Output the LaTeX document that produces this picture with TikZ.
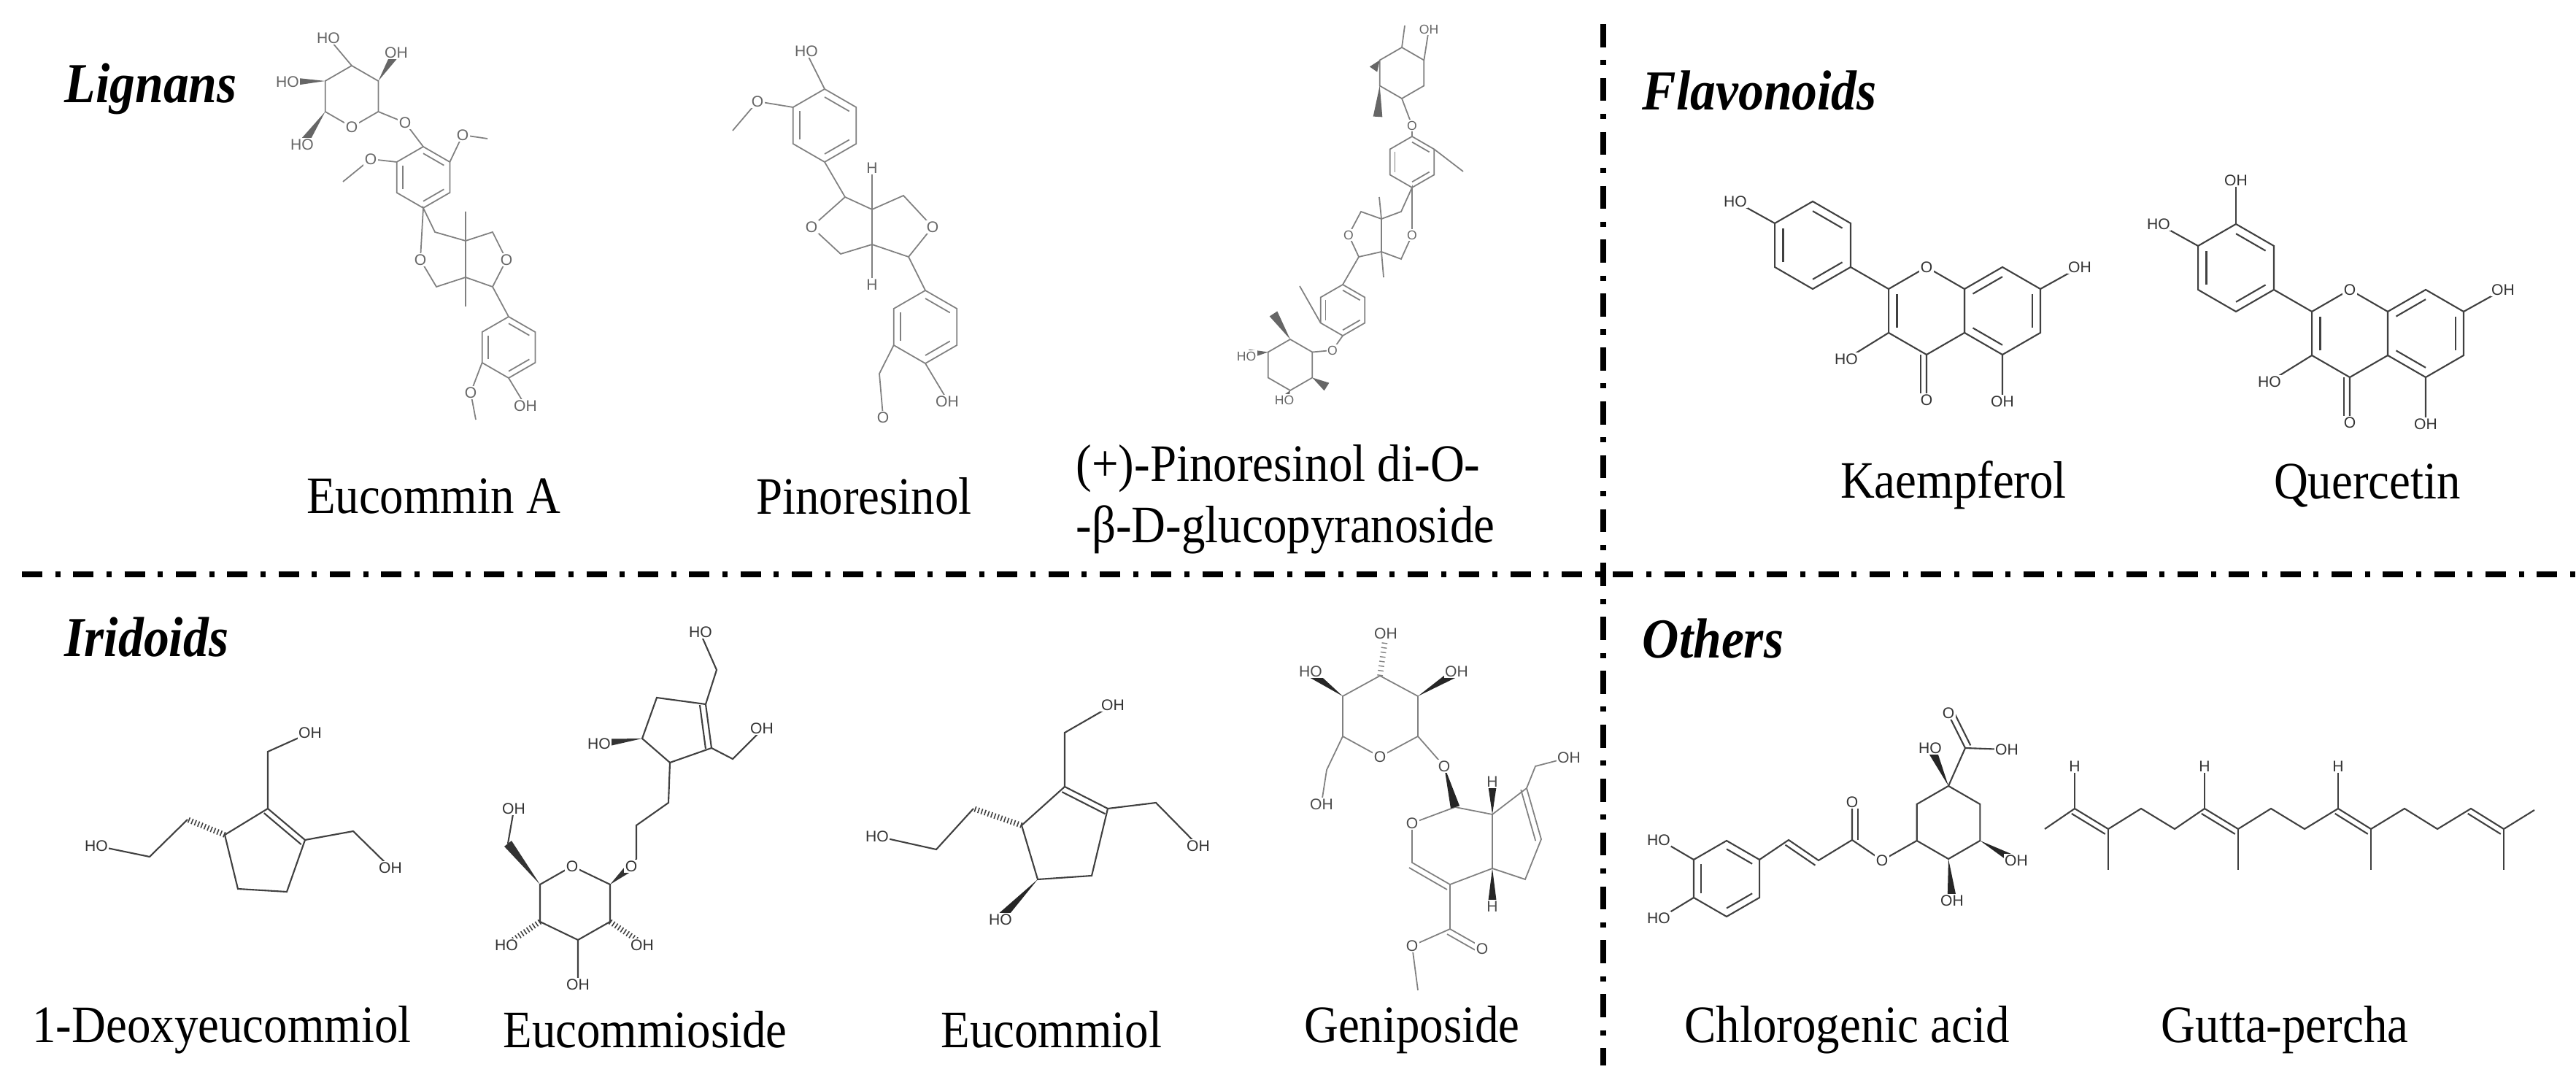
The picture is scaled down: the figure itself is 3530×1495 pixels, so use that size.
\documentclass[tikz,border=0pt]{standalone}
\usepackage{fontspec}
\setmainfont[FakeStretch=0.9]{Liberation Serif}
\newfontfamily\lblf{Liberation Sans}
\usetikzlibrary{calc}
\tikzset{
 bd/.style={line width=0.6pt,draw=black!75},
 lg/.style={line width=0.5pt,draw=black!50},
 hs/.style={line width=2.2pt,draw=black!75,dash pattern=on .45pt off .9pt},
 lbl/.style={font=\lblf\fontsize{6}{6}\selectfont,inner sep=0.4pt,fill=white,text=black!80},
 cname/.style={font=\fontsize{20.5}{24}\selectfont,inner sep=0pt},
 hd/.style={font=\fontsize{22}{24}\selectfont\bfseries\itshape,inner sep=0pt,anchor=west},
 sepl/.style={line width=2.2pt},
}
\newcommand\hexr[6]{% name, cx, cy, start, radius, style
 \coordinate (#1c) at (#2,#3);
 \foreach \k in {1,...,6}{\coordinate (#1\k) at ($(#2,#3)+({#4+60*(\k-1)}:#5)$);}
 \draw[#6] (#11)--(#12)--(#13)--(#14)--(#15)--(#16)--cycle;}
\newcommand\inb[4]{\draw[#4] ($(#1c)!0.78!(#1#2)$) -- ($(#1c)!0.78!(#1#3)$);}
\newcommand\dbl[3]{\draw[#3] ($(#1)!2.3pt!90:(#2)$) -- ($(#2)!2.3pt!-90:(#1)$);}
\newcommand\wdg[3]{\fill[#3] (#1) -- ($(#2)!1.8pt!90:(#1)$) -- ($(#2)!1.8pt!-90:(#1)$) -- cycle;}
\newcommand\flav[4]{% prefix dx dy extraOH
 \hexr{#1B}{2484+#2}{336+#3}{-90}{60}{bd}
 \hexr{#1C}{2640+#2}{426+#3}{-90}{60}{bd}
 \hexr{#1A}{2744+#2}{426+#3}{-90}{60}{bd}
 \inb{#1B}{1}{2}{bd}\inb{#1B}{3}{4}{bd}\inb{#1B}{5}{6}{bd}
 \inb{#1A}{6}{1}{bd}\inb{#1A}{2}{3}{bd}\inb{#1A}{4}{5}{bd}
 \inb{#1C}{5}{6}{bd}
 \coordinate (#1o4) at (2640+#2,548+#3);
 \coordinate (#1o3) at (2530+#2,492+#3);
 \coordinate (#1o7) at (2850+#2,366+#3);
 \coordinate (#1o5) at (2744+#2,550+#3);
 \coordinate (#1o4p) at (2378+#2,276+#3);
 \draw[bd] (#1B3)--(#1C6) (#1C4)--(#1o4) (#1C5)--(#1o3) (#1A2)--(#1o7) (#1A4)--(#1o5) (#1B6)--(#1o4p);
 \dbl{#1o4}{#1C4}{bd}
 \node[lbl] (#1lo4) at (#1o4) {O};
 \node[lbl] (#1lo3) at (#1o3) {HO};
 \node[lbl] (#1lo7) at (#1o7) {OH};
 \node[lbl] (#1lo5) at (#1o5) {OH};
 \node[lbl] (#1lo4p) at (#1o4p) {HO};
 \node[lbl] (#1lo1) at (#1C1) {O};
 #4}
\begin{document}
\begin{tikzpicture}[x=0.01cm,y=-0.01cm]
\useasboundingbox (0,0) rectangle (3530,1495);
% separators
\draw[sepl,dash pattern=on 8pt off 5pt on 2pt off 5pt] (30,787) -- (3530,787);
\draw[sepl,dash pattern=on 9pt off 5pt on 2pt off 5pt] (2197,33) -- (2197,1460);
% headings
\node[hd] (hL) at (88,122) {Lignans};
\node[hd] (hF) at (2250,124) {Flavonoids};
\node[hd] (hI) at (88,873) {Iridoids};
\node[hd] (hO) at (2250,875) {Others};
% names
\node[cname] (n1) at (594,680) {Eucommin A};
\node[cname] (n2) at (1184,680) {Pinoresinol};
\node[cname,anchor=west,align=left] (n3) at (1474,684) {(+)-Pinoresinol di-O-\\-β-D-glucopyranoside};
\node[cname] (n4) at (2677,665) {Kaempferol};
\node[cname] (n5) at (3244,665) {Quercetin};
\node[cname] (n6) at (304,1411) {1-Deoxyeucommiol};
\node[cname] (n7) at (884,1411) {Eucommioside};
\node[cname] (n8) at (1441,1411) {Eucommiol};
\node[cname] (n9) at (1935,1411) {Geniposide};
\node[cname] (n10) at (2531,1411) {Chlorogenic acid};
\node[cname] (n11) at (3131,1411) {Gutta-percha};
% ---- Flavonoids
\flav{K}{0}{0}{}
\flav{Q}{580}{31}{\coordinate (Qo3p) at (3064,247); \draw[bd] (QB1)--(Qo3p); \node[lbl] (Qlo3p) at (Qo3p) {OH};}
% ---- Eucommin A
\hexr{EG}{482}{132}{-90}{42}{lg}
\hexr{EA}{580}{243}{-90}{42}{lg}
\inb{EA}{1}{2}{lg}\inb{EA}{3}{4}{lg}\inb{EA}{5}{6}{lg}
\hexr{EB}{697}{476}{-90}{42}{lg}
\inb{EB}{1}{2}{lg}\inb{EB}{3}{4}{lg}\inb{EB}{5}{6}{lg}
\draw[lg] (EG1)--(450,52) (EG3)--(555,168)--(EA1) (EA2)--(634,185)--(668,190) (EA6)--(508,218)--(470,249)
 (EA4)--(596,318)--(638,330)--(638,380)--(598,393)--(576,356)--cycle
 (638,330)--(675,318)--(694,356)--(675,393)--(638,380) (638,330)--(638,290) (638,380)--(638,420)
 (675,393)--(EB1) (EB5)--(645,538)--(652,575) (EB4)--(720,556);
\wdg{EG2}{543,72}{black!60}\wdg{EG6}{396,112}{black!60}\wdg{EG5}{416,196}{black!60}
\foreach \p/\t [count=\i] in {{450,52}/HO,{543,72}/OH,{394,112}/HO,{414,198}/HO,{482,174}/O,{555,168}/O,{634,185}/O,{508,218}/O,{576,356}/O,{694,356}/O,{645,538}/O,{720,556}/OH}
 \node[lbl,text=black!60] (ea\i) at (\p) {\t};
% ---- Pinoresinol
\hexr{PA}{1130}{172}{-90}{50}{lg}
\inb{PA}{1}{2}{lg}\inb{PA}{3}{4}{lg}\inb{PA}{5}{6}{lg}
\hexr{PB}{1268}{448}{-90}{50}{lg}
\inb{PB}{1}{2}{lg}\inb{PB}{3}{4}{lg}\inb{PB}{5}{6}{lg}
\draw[lg] (PA1)--(1105,72) (PA6)--(1038,139)--(1004,179) (PA4)--(1158,270)
 (1158,270)--(1195,287)--(1195,335)--(1152,348)--(1112,311)--cycle
 (1195,287)--(1238,268)--(1278,311)--(1245,352)--(1195,335)
 (1195,287)--(1195,232) (1195,335)--(1195,388)
 (1245,352)--(PB1) (PB5)--(1205,512)--(1210,570) (PB4)--(1298,548);
\foreach \p/\t [count=\i] in {{1105,70}/HO,{1038,139}/O,{1112,311}/O,{1278,311}/O,{1195,230}/H,{1195,390}/H,{1210,572}/O,{1298,550}/OH}
 \node[lbl,text=black!60] (pi\i) at (\p) {\t};
% ---- Pinoresinol diglucoside
\hexr{DG}{1921}{100}{-90}{35}{lg}
\hexr{DA}{1935}{222}{-90}{35}{lg}
\inb{DA}{1}{2}{lg}\inb{DA}{3}{4}{lg}\inb{DA}{5}{6}{lg}
\hexr{DB}{1840}{425}{-90}{35}{lg}
\inb{DB}{1}{2}{lg}\inb{DB}{3}{4}{lg}\inb{DB}{5}{6}{lg}
\hexr{DH}{1768}{500}{-90}{35}{lg}
\draw[lg] (DG1)--(1925,35) (DG2)--(1958,40) (DG4)--(1935,172)--(DA1) (DA2)--(2005,235)
 (DA4)--(1920,290)--(1893,300)--(1893,345)--(1920,355)--(1935,322)--cycle
 (1893,300)--(1865,290)--(1848,322)--(1862,352)--(1893,345) (1893,300)--(1890,270) (1893,345)--(1896,380)
 (1862,352)--(DB1) (DB5)--(1781,392) (DB4)--(1826,480)--(DH2);
\wdg{DG6}{1882,95}{black!60}\wdg{DG5}{1888,160}{black!60}
\wdg{DH6}{1712,485}{black!60}\wdg{DH4}{1760,548}{black!60}\wdg{DH1}{1745,430}{black!60}\wdg{DH3}{1818,530}{black!60}
\foreach \p/\t [count=\i] in {{1958,40}/OH,{1935,172}/O,{1848,322}/O,{1935,322}/O,{1826,480}/O,{1760,548}/HO,{1708,488}/HO}
 \node[lbl,text=black!60,font=\lblf\fontsize{5}{5}\selectfont] (dg\i) at (\p) {\t};
% ---- 1-Deoxyeucommiol
\draw[bd] (367,1108)--(418,1151)--(393,1222)--(326,1218)--(308,1144)--cycle;
\dbl{418,1151}{367,1108}{bd}
\draw[bd] (367,1108)--(367,1030)--(425,1004) (418,1151)--(484,1139)--(535,1189) (257,1123)--(205,1174)--(132,1159);
\draw[hs] (308,1144)--(257,1123);
\node[lbl] (d1) at (425,1004) {OH}; \node[lbl] (d2) at (535,1189) {OH}; \node[lbl] (d3) at (132,1159) {HO};
% ---- Eucommioside
\draw[bd] (900,956)--(967,965)--(975,1025)--(918,1045)--(880,1012)--cycle;
\dbl{975,1025}{967,965}{bd}
\draw[bd] (967,965)--(982,918)--(960,868) (975,1025)--(1004,1040)--(1044,1000)
 (918,1045)--(916,1100)--(872,1131)--(872,1177)--(865,1187)
 (784,1187)--(836,1212)--(836,1263)--(792,1288)--(740,1263)--(740,1212)--cycle
 (696,1156)--(704,1110) (792,1288)--(792,1347);
\wdg{880,1012}{821,1019}{black!80}\wdg{836,1212}{865,1187}{black!80}\wdg{740,1212}{696,1156}{black!80}
\draw[hs] (836,1263)--(880,1293) (740,1263)--(696,1293);
\foreach \p/\t [count=\i] in {{960,866}/HO,{1044,998}/OH,{821,1019}/HO,{865,1187}/O,{784,1187}/O,{704,1108}/OH,{880,1295}/OH,{694,1295}/HO,{792,1349}/OH}
 \node[lbl] (es\i) at (\p) {\t};
% ---- Eucommiol
\draw[bd] (1459,1078)--(1518,1108)--(1496,1200)--(1422,1205)--(1400,1131)--cycle;
\dbl{1518,1108}{1459,1078}{bd}
\draw[bd] (1459,1078)--(1459,1004)--(1525,966) (1518,1108)--(1584,1100)--(1642,1159) (1334,1108)--(1283,1164)--(1202,1146);
\draw[hs] (1400,1131)--(1334,1108);
\wdg{1422,1205}{1371,1258}{black!85}
\foreach \p/\t [count=\i] in {{1525,966}/OH,{1642,1159}/OH,{1202,1146}/HO,{1371,1260}/HO}
 \node[lbl] (eu\i) at (\p) {\t};
% ---- Geniposide
\draw[lg] (1891,926)--(1943,954)--(1943,1009)--(1891,1037)--(1840,1009)--(1840,954)--cycle
 (1840,1009)--(1818,1055)--(1811,1100) (1943,1009)--(1979,1050)
 (1994,1106)--(1935,1128)--(1935,1182)--(1987,1212)--(2045,1190)--(2045,1116)--cycle
 (2045,1116)--(2092,1080)--(2112,1150)--(2090,1205)--(2045,1190)
 (2092,1080)--(2104,1050)--(2150,1038)
 (1987,1212)--(1987,1273)--(2031,1298) (1987,1273)--(1935,1296)--(1943,1357);
\dbl{1987,1212}{1935,1182}{lg}\dbl{2112,1150}{2092,1080}{lg}\dbl{2031,1298}{1987,1273}{lg}
\draw[hs,dash pattern=on .4pt off 1.4pt,draw=black!50] (1891,926)--(1899,870);
\wdg{1840,954}{1796,922}{black!85}\wdg{1943,954}{1994,922}{black!85}\wdg{1979,1050}{1994,1106}{black!85}
\wdg{2045,1116}{2045,1073}{black!85}\wdg{2045,1190}{2045,1240}{black!85}
\foreach \p/\t [count=\i] in {{1899,868}/OH,{1796,920}/HO,{1996,920}/OH,{1811,1102}/OH,{1979,1050}/O,{1891,1037}/O,{1935,1128}/O,{2150,1038}/OH,{2045,1071}/H,{2045,1242}/H,{2031,1300}/O,{1935,1296}/O}
 \node[lbl,text=black!70] (ge\i) at (\p) {\t};
% ---- Chlorogenic acid
\hexr{CA}{2366}{1204}{-90}{52}{bd}
\inb{CA}{1}{2}{bd}\inb{CA}{3}{4}{bd}\inb{CA}{5}{6}{bd}
\hexr{CQ}{2670}{1127}{-90}{50}{bd}
\draw[bd] (CA6)--(2275,1151) (CA5)--(2275,1258) (CA2)--(2451,1151)--(2492,1179)--(2538,1151)--(2538,1101)
 (2538,1151)--(2579,1179)--(CQ5) (CQ1)--(2693,1025)--(2670,979) (2693,1025)--(2748,1027);
\dbl{2492,1179}{2451,1151}{bd}\dbl{2538,1101}{2538,1151}{bd}\dbl{2670,979}{2693,1025}{bd}
\wdg{CQ1}{2647,1027}{black!85}\wdg{CQ3}{2761,1179}{black!85}\wdg{CQ4}{2675,1232}{black!85}
\foreach \p/\t [count=\i] in {{2273,1151}/HO,{2273,1258}/HO,{2538,1099}/O,{2579,1179}/O,{2670,977}/O,{2750,1027}/OH,{2645,1025}/HO,{2763,1179}/OH,{2675,1234}/OH}
 \node[lbl] (ch\i) at (\p) {\t};
% ---- Gutta-percha
\draw[bd] (2802,1136)--(2843,1108)--(2889,1136)--(2934,1108)--(2980,1136)--(3021,1108)--(3067,1136)--(3112,1108)
 --(3158,1136)--(3204,1108)--(3249,1136)--(3295,1108)--(3340,1136)--(3386,1108)--(3431,1136)--(3473,1110);
\foreach \a/\b in {2843/2889,3021/3067,3204/3249,3386/3431}{\dbl{\b,1136}{\a,1108}{bd}}
\foreach \xx in {2889,3067,3249,3431}{\draw[bd] (\xx,1136)--(\xx,1192);}
\foreach \xx [count=\i] in {2843,3021,3204}{\draw[bd] (\xx,1108)--(\xx,1055); \node[lbl] (gh\i) at (\xx,1050) {H};}
\end{tikzpicture}
\end{document}
